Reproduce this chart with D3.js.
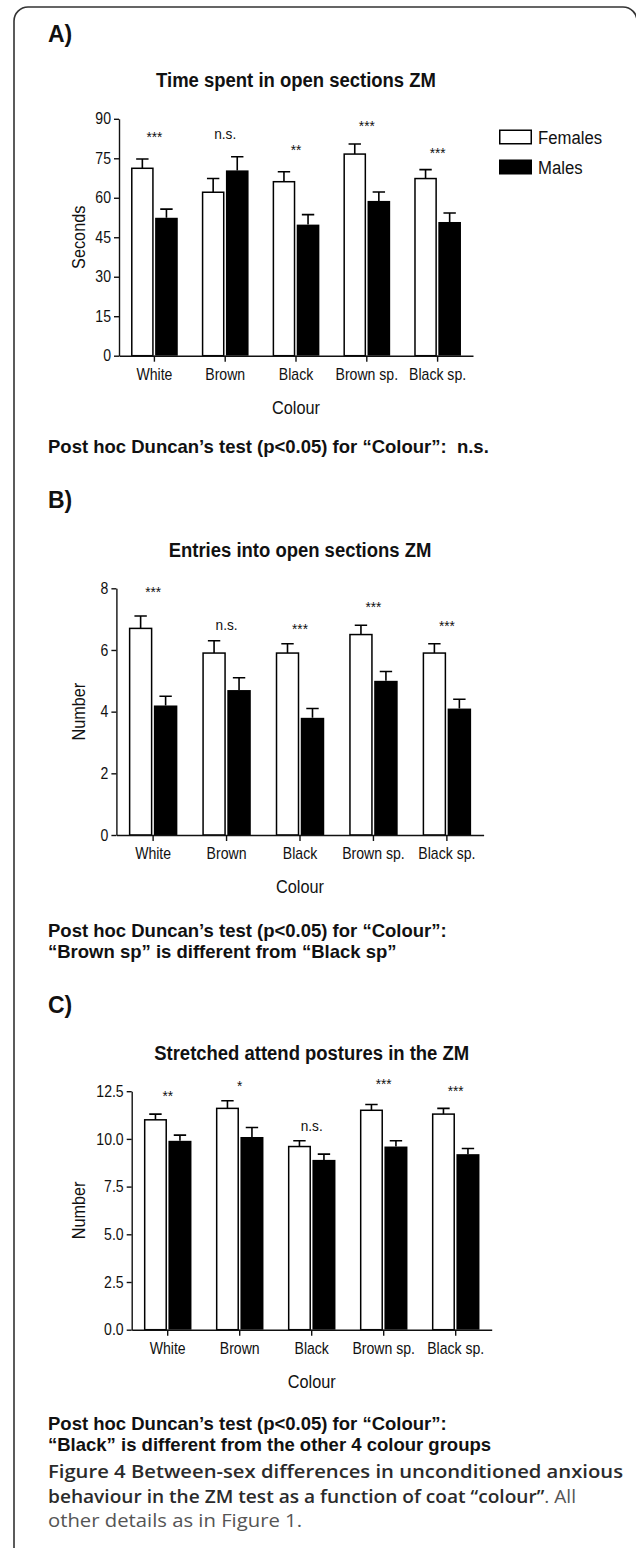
<!DOCTYPE html>
<html><head><meta charset="utf-8">
<script src="https://cdn.jsdelivr.net/npm/d3@7"></script>
<style>body{margin:0;background:#fff} svg{display:block} text{white-space:pre}</style>
</head><body>
<svg id="c" width="636" height="1548"></svg>
<script>
const categories = ["White","Brown","Black","Brown sp.","Black sp."];
const seriesNames = ["Females","Males"];

// Panel A: Time spent in open sections (s)
const timeFemales    = [71.2, 62.1, 66.1, 76.6, 67.3];
const timeFemalesSEM = [3.5, 5.2, 3.8, 3.8, 3.4];
const timeMales      = [52.4, 70.4, 49.8, 58.8, 50.8];
const timeMalesSEM   = [3.3, 5.2, 3.8, 3.4, 3.4];
const timeSig        = ["***","n.s.","**","***","***"];
const timeSigAt      = [81.2, 82.3, 76.3, 85.4, 75.1];
const timeTicks      = [0, 15, 30, 45, 60, 75, 90];

// Panel B: Entries into open sections (number)
const entriesFemales    = [6.7, 5.9, 5.9, 6.5, 5.9];
const entriesFemalesSEM = [0.4, 0.4, 0.3, 0.3, 0.3];
const entriesMales      = [4.2, 4.7, 3.8, 5.0, 4.1];
const entriesMalesSEM   = [0.3, 0.4, 0.3, 0.3, 0.3];
const entriesSig        = ["***","n.s.","***","***","***"];
const entriesSigAt      = [7.72, 6.65, 6.52, 7.23, 6.62];
const entriesTicks      = [0, 2, 4, 6, 8];

// Panel C: Stretched attend postures (number)
const sapFemales    = [11.0, 11.6, 9.6, 11.5, 11.3];
const sapFemalesSEM = [0.3, 0.4, 0.3, 0.3, 0.3];
const sapMales      = [9.9, 10.1, 8.9, 9.6, 9.2];
const sapMalesSEM   = [0.3, 0.5, 0.3, 0.3, 0.3];
const sapSig        = ["**","*","n.s.","***","***"];
const sapSigAt      = [11.99, 12.53, 10.43, 12.62, 12.26];
const sapTicks      = [0, 2.5, 5, 7.5, 10, 12.5];

const FONT = "'Liberation Sans', Arial, Helvetica, sans-serif";
const SX = 0.88; // condensed look of the chart lettering
const svg = d3.select("#c").attr("font-family", FONT);

function txt(g, x, y, s, o = {}) {
  return g.append("text")
    .attr("transform", `translate(${x},${y})` + (o.rot ? ` rotate(${o.rot})` : "") + ` scale(${o.sx ?? SX},1)`)
    .attr("text-anchor", o.anchor || "middle")
    .attr("font-size", o.size || 16)
    .attr("font-weight", o.weight || "normal")
    .attr("dy", o.dy || 0)
    .attr("fill", o.fill || "#111")
    .text(s);
}

// outer frame
svg.append("path")
  .attr("d", "M14,1560 V21 A14,14 0 0 1 28,7 H623 A14,14 0 0 1 637,21 V1560")
  .attr("fill", "none").attr("stroke", "#333").attr("stroke-width", 1.6);

const panels = [
  { label: "A)", labelY: 41.5, title: "Time spent in open sections ZM", titleY: 86.7, yTitle: "Seconds",
    fem: timeFemales, femE: timeFemalesSEM, mal: timeMales, malE: timeMalesSEM,
    sig: timeSig, sigAt: timeSigAt, ticks: timeTicks, fmt: d3.format("d"),
    xr: [119, 473], yr: [355.7, 118.8], legend: true,
    posthoc: ["Post hoc Duncan\u2019s test (p<0.05) for \u201cColour\u201d:\u00a0 n.s."], phY: 453 },
  { label: "B)", labelY: 507.5, title: "Entries into open sections ZM", titleY: 556.7, yTitle: "Number",
    fem: entriesFemales, femE: entriesFemalesSEM, mal: entriesMales, malE: entriesMalesSEM,
    sig: entriesSig, sigAt: entriesSigAt, ticks: entriesTicks, fmt: d3.format("d"),
    xr: [116.4, 483.6], yr: [835, 588.3], legend: false,
    posthoc: ["Post hoc Duncan\u2019s test (p<0.05) for \u201cColour\u201d:",
              "\u201cBrown sp\u201d is different from \u201cBlack sp\u201d"], phY: 936.5 },
  { label: "C)", labelY: 1013, title: "Stretched attend postures in the ZM", titleY: 1060, yTitle: "Number",
    fem: sapFemales, femE: sapFemalesSEM, mal: sapMales, malE: sapMalesSEM,
    sig: sapSig, sigAt: sapSigAt, ticks: sapTicks, fmt: d3.format(".1f"),
    xr: [131.7, 491.7], yr: [1329.7, 1091.2], legend: false,
    posthoc: ["Post hoc Duncan\u2019s test (p<0.05) for \u201cColour\u201d:",
              "\u201cBlack\u201d is different from the other 4 colour groups"], phY: 1429.8 }
];

panels.forEach(p => {
  const g = svg.append("g");
  const yMax = p.ticks[p.ticks.length - 1];
  const x0 = d3.scaleBand().domain(categories).range(p.xr).paddingInner(0.34).paddingOuter(0.17);
  const x1 = d3.scaleBand().domain(seriesNames).range([0, x0.bandwidth()]).paddingInner(0.06);
  const y = d3.scaleLinear().domain([0, yMax]).range(p.yr);

  // panel letter
  g.append("text").attr("x", 48).attr("y", p.labelY).attr("font-size", 23).attr("font-weight", "bold")
    .attr("fill", "#111").text(p.label);
  // title
  txt(g, (p.xr[0] + p.xr[1]) / 2, p.titleY, p.title, { size: 21, weight: "bold" });

  // bars
  const rows = categories.map((c, i) => ({ c, vals: [
    { s: "Females", v: p.fem[i], e: p.femE[i] },
    { s: "Males", v: p.mal[i], e: p.malE[i] } ] }));
  const grp = g.selectAll("g.cat").data(rows).join("g").attr("class", "cat")
    .attr("transform", d => `translate(${x0(d.c)},0)`);
  grp.selectAll("rect").data(d => d.vals).join("rect")
    .attr("x", d => x1(d.s) + (d.s === "Females" ? 0.75 : 0))
    .attr("width", d => x1.bandwidth() - (d.s === "Females" ? 1.5 : 0))
    .attr("y", d => y(d.v))
    .attr("height", d => y(0) - y(d.v))
    .attr("fill", d => d.s === "Females" ? "#fff" : "#000")
    .attr("stroke", d => d.s === "Females" ? "#000" : "none")
    .attr("stroke-width", 1.5);
  // error bars (upper SEM)
  grp.selectAll("path.err").data(d => d.vals).join("path").attr("class", "err")
    .attr("d", d => {
      const cx = x1(d.s) + x1.bandwidth() / 2;
      const yt = y(d.v + d.e);
      return `M${cx},${y(d.v)}V${yt}M${cx - 6.2},${yt}H${cx + 6.2}`;
    })
    .attr("stroke", "#000").attr("stroke-width", 1.6).attr("fill", "none");

  // significance labels
  categories.forEach((c, i) => {
    txt(g, x0(c) + x0.bandwidth() / 2, y(p.sigAt[i]), p.sig[i], { size: 15.5 });
  });

  // axes
  const ya = g.append("g").attr("transform", `translate(${p.xr[0]},0)`)
    .call(d3.axisLeft(y).tickValues(p.ticks).tickFormat(p.fmt).tickSize(5).tickSizeOuter(0).tickPadding(3));
  ya.selectAll("text").attr("font-size", 16).attr("font-family", FONT).attr("fill", "#111")
    .attr("x", -8 / SX).attr("transform", `scale(${SX},1)`);
  const xa = g.append("g").attr("transform", `translate(0,${p.yr[0]})`)
    .call(d3.axisBottom(x0).tickSize(6).tickSizeOuter(0));
  xa.selectAll("text").attr("font-size", 16).attr("font-family", FONT).attr("fill", "#111")
    .attr("dy", null).attr("y", 24.5).attr("transform", `scale(${SX},1)`)
    .attr("x", 0);
  [ya, xa].forEach(a => {
    a.select(".domain").attr("stroke", "#111").attr("stroke-width", 1.4);
    a.selectAll(".tick line").attr("stroke", "#111").attr("stroke-width", 1.4);
  });

  // axis titles
  txt(g, 79, (p.yr[0] + p.yr[1]) / 2, p.yTitle, { size: 18.5, rot: -90, dy: "0.35em" });
  txt(g, (p.xr[0] + p.xr[1]) / 2, p.yr[0] + 58, "Colour", { size: 18.5 });

  // legend
  if (p.legend) {
    const lg = g.append("g");
    seriesNames.forEach((s, i) => {
      const top = 129.5 + i * 30;
      if (s === "Females") {
        lg.append("rect").attr("x", 499.75).attr("y", top + 0.75).attr("width", 31.5).attr("height", 13.5)
          .attr("fill", "#fff").attr("stroke", "#000").attr("stroke-width", 1.5);
      } else {
        lg.append("rect").attr("x", 499).attr("y", top).attr("width", 33).attr("height", 15).attr("fill", "#000");
      }
      txt(lg, 538, top + 14, s, { size: 19, anchor: "start" });
    });
  }

  // post hoc note
  p.posthoc.forEach((line, i) => {
    g.append("text").attr("x", 48).attr("y", p.phY + i * 21.5).attr("font-size", 18.5)
      .attr("font-weight", "bold").attr("fill", "#111").text(line);
  });
});

// figure caption
const CAP = "'Open Sans', 'Noto Sans', sans-serif";
const cap = svg.append("g").attr("font-family", CAP).attr("font-size", 18);
cap.append("text").attr("x", 48).attr("y", 1478).attr("font-weight", 600).attr("fill", "#2b2b2b")
  .attr("textLength", 575).attr("lengthAdjust", "spacingAndGlyphs")
  .text("Figure 4 Between-sex differences in unconditioned anxious");
const l2 = cap.append("text").attr("x", 48).attr("y", 1502.5)
  .attr("textLength", 528).attr("lengthAdjust", "spacingAndGlyphs");
l2.append("tspan").attr("font-weight", 600).attr("fill", "#2b2b2b")
  .text("behaviour in the ZM test as a function of coat \u201ccolour\u201d");
l2.append("tspan").attr("fill", "#555").text(". All");
cap.append("text").attr("x", 48).attr("y", 1527).attr("fill", "#555")
  .attr("textLength", 254).attr("lengthAdjust", "spacingAndGlyphs")
  .text("other details as in Figure 1.");
</script>
</body></html>
